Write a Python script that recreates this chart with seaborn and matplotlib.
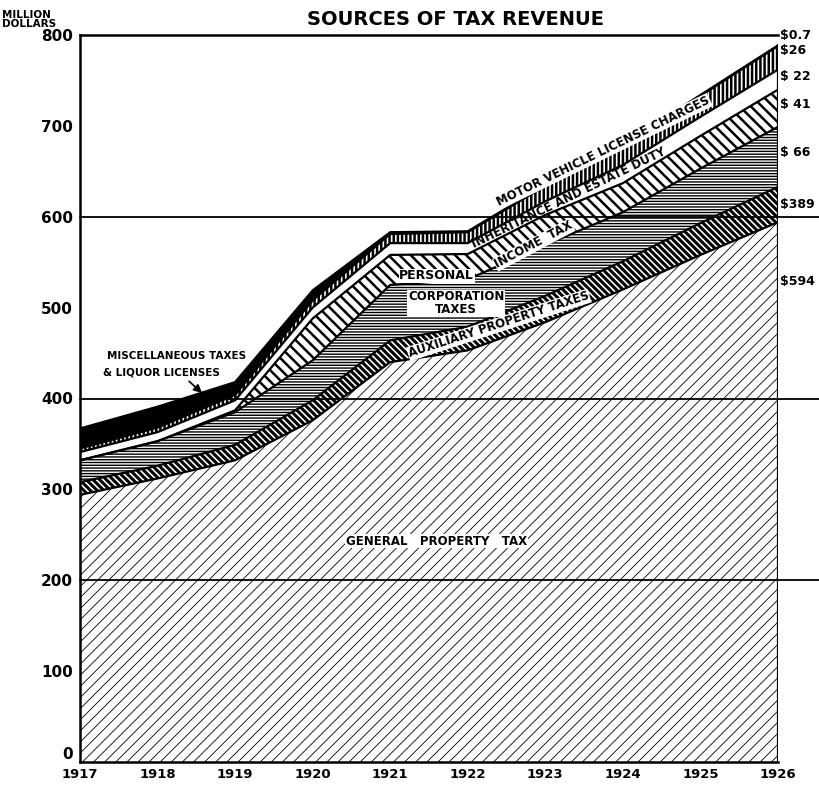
import numpy as np
import pandas as pd
import matplotlib
matplotlib.use("Agg")
import matplotlib.pyplot as plt
import seaborn as sns

# Values in million dollars
years = [1917, 1918, 1919, 1920, 1921, 1922, 1923, 1924, 1925, 1926]
general = [294, 312, 332, 376, 440, 453, 484, 520, 558, 594]
auxiliary = [14, 14, 17, 22, 24, 26, 29, 31, 35, 38.9]
corporation = [24, 27, 36, 44, 61, 52, 56, 54, 60, 66]
personal = [0, 0, 2, 46, 33, 28, 33, 32, 36, 41]
inheritance = [9, 10, 11, 12, 13, 12, 15, 20, 21, 22]
motor = [4, 5, 6, 8, 10, 12, 17, 21, 23, 26]
misc = [22, 23, 14, 11, 2, 1, 1, 1, 1, 0.7]

layer_names = ['General property tax', 'Auxiliary property taxes', 'Corporation taxes',
               'Personal income tax', 'Inheritance and estate duty',
               'Motor vehicle license charges', 'Miscellaneous taxes & liquor licenses']
right_labels = ['$594', '$389', '$ 66', '$ 41', '$ 22', '$26', '$0.7']
right_label_y = [529, 613, 671, 724, 754, 783, 800]

sns.set_theme(style="white")
plt.rcParams['font.family'] = ['DejaVu Sans']
plt.rcParams['font.weight'] = 'bold'
for key in ['text.color', 'axes.labelcolor', 'xtick.color', 'ytick.color']:
    plt.rcParams[key] = 'black'

layers = [general, auxiliary, corporation, personal, inheritance, motor, misc]
df = pd.DataFrame({name: vals for name, vals in zip(layer_names, layers)}, index=years)
cum = df.cumsum(axis=1)

fig = plt.figure(figsize=(8.2, 7.87), dpi=100)
ax = fig.add_axes([80 / 820, 25 / 787, 698 / 820, 727 / 787])

# face, hatch, hatch line width for every layer
styles = [
    ('white', '///', 0.6),
    ('white', '\\\\\\\\\\', 2.2),
    ('white', '------', 1.0),
    ('white', '\\\\\\', 1.8),
    ('white', '', 1.0),
    ('white', '||||', 1.8),
    ('black', '', 1.0),
]

lower = np.zeros(len(years))
for name, (face, hatch, hlw) in zip(layer_names, styles):
    upper = cum[name].values
    with plt.rc_context({'hatch.linewidth': hlw}):
        poly = ax.fill_between(years, lower, upper, facecolor=face, edgecolor='black',
                               hatch=hatch, linewidth=0, zorder=1)
    if hasattr(poly, 'set_hatch_linewidth'):
        poly.set_hatch_linewidth(hlw)
    lower = upper

# boundaries between layers
long = cum.reset_index(names='year').melt(id_vars='year', var_name='layer', value_name='top')
sns.lineplot(data=long, x='year', y='top', units='layer', estimator=None,
             color='black', linewidth=1.6, ax=ax, zorder=3, legend=False)

ax.set_xlim(1917, 1926)
ax.set_ylim(0, 800)
ax.set_xlabel('')
ax.set_ylabel('')

for gy in [200, 400, 600]:
    ax.axhline(gy, xmin=0, xmax=1.06, color='black', linewidth=1.3, clip_on=False, zorder=4)

ax.spines['right'].set_visible(False)
for side in ['left', 'bottom', 'top']:
    ax.spines[side].set_color('black')
    ax.spines[side].set_linewidth(1.8)
ax.plot([1926, 1926], [0, cum.iloc[-1, -1]], color='black', linewidth=1.6, zorder=3)

ax.set_yticks(range(0, 801, 100))
ax.set_yticklabels([str(v) for v in range(0, 801, 100)], fontsize=11, fontweight='bold')
ax.set_xticks(years)
ax.set_xticklabels([str(y) for y in years], fontsize=9.5, fontweight='bold')
ax.tick_params(axis='y', direction='out', length=4, width=1.2, color='black', pad=1)
ax.tick_params(axis='x', length=0, pad=4)
ax.get_yticklabels()[0].set_verticalalignment('bottom')

fig.text(0.555, 0.975, 'SOURCES OF TAX REVENUE', ha='center', va='center',
         fontsize=14, fontweight='bold')
fig.text(0.003, 0.975, 'MILLION\nDOLLARS', ha='left', va='center', fontsize=7.5,
         fontweight='bold', linespacing=0.9)

# labels inside the chart
ax.text(1918.25, 447, 'MISCELLANEOUS TAXES', ha='center', va='center', fontsize=7.5)
ax.text(1918.05, 429, '& LIQUOR LICENSES', ha='center', va='center', fontsize=7.5)
ax.annotate('', xy=(1918.6, 404), xytext=(1918.38, 421),
            arrowprops=dict(arrowstyle='-|>', color='black', lw=1.2))
ax.text(1921.6, 535, 'PERSONAL', ha='center', va='center', fontsize=9, zorder=5,
        bbox=dict(facecolor='white', edgecolor='none', pad=0.5))
ax.text(1922.85, 569, 'INCOME  TAX', ha='center', va='center', fontsize=8.5,
        rotation=28, zorder=5, bbox=dict(facecolor='white', edgecolor='none', pad=0.3))
ax.text(1923.3, 621, 'INHERITANCE AND ESTATE DUTY', ha='center', va='center',
        fontsize=8.5, rotation=26, zorder=5)
ax.text(1923.75, 672, 'MOTOR VEHICLE LICENSE CHARGES', ha='center', va='center',
        fontsize=8.5, rotation=26, zorder=5,
        bbox=dict(facecolor='white', edgecolor='none', pad=0.5))
ax.text(1921.85, 505, 'CORPORATION\nTAXES', ha='center', va='center', fontsize=8.5,
        linespacing=0.95, zorder=5, bbox=dict(facecolor='white', edgecolor='none', pad=0.5))
ax.text(1922.4, 481, 'AUXILIARY PROPERTY TAXES', ha='center', va='center', fontsize=8.5,
        rotation=18, zorder=5, bbox=dict(facecolor='white', edgecolor='none', pad=0.5))
ax.text(1921.6, 243, 'GENERAL   PROPERTY   TAX', ha='center', va='center', fontsize=8.5,
        zorder=5, bbox=dict(facecolor='white', edgecolor='none', pad=0.5))

for lab, ly in zip(right_labels, right_label_y):
    ax.text(1926.03, ly, lab, ha='left', va='center', fontsize=9, clip_on=False)

fig.savefig('out.png', dpi=100)
